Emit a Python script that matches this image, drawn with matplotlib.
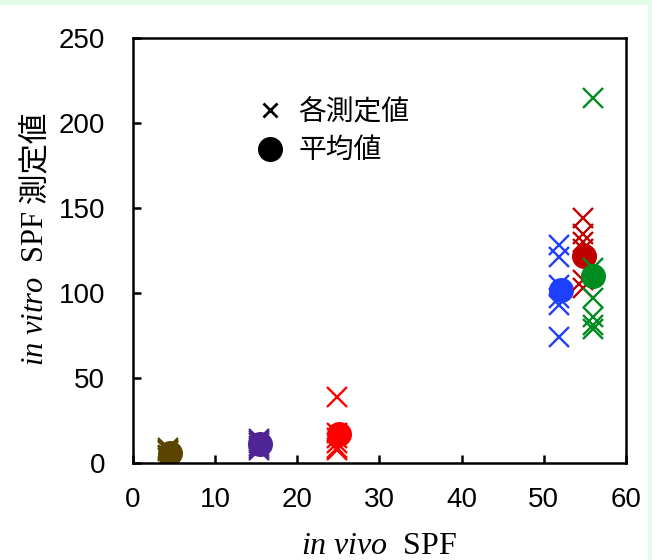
import matplotlib
matplotlib.use("Agg")
import matplotlib.pyplot as plt
from matplotlib.lines import Line2D
from matplotlib.patches import Rectangle

plt.rcParams['font.family'] = ['Liberation Sans', 'Noto Sans CJK JP']
plt.rcParams['mathtext.fontset'] = 'custom'
plt.rcParams['mathtext.rm'] = 'Liberation Serif'
plt.rcParams['mathtext.it'] = 'Liberation Serif:italic'

# each sample: in vivo SPF, measured in vitro values, mean
colors = ['#5a4400', '#4f2596', '#ff0000', '#1f3fff', '#c00000', '#008c1e']
vivo_x = [4.3, 15.3, 24.8, 51.8, 54.8, 56.0]
vivo_mean_x = [4.5, 15.4, 25.1, 52.1, 54.9, 56.0]
vitro_vals = [
    [9, 8, 7, 5, 4, 3],
    [14, 13, 12, 10, 9, 8],
    [39, 18, 15, 12, 9, 8],
    [128, 121, 105, 97, 93, 74],
    [144, 135, 130, 126, 108, 103],
    [215, 115, 97, 86, 81, 79],
]
vitro_mean = [6, 11, 17, 102, 122, 110]

xticks = [0, 10, 20, 30, 40, 50, 60]
yticks = [0, 50, 100, 150, 200, 250]

fig = plt.figure(figsize=(6.52, 5.6), dpi=100, facecolor='#e2fbe8')
fig.patches.append(Rectangle((0, 0), 648 / 652, 555 / 560, transform=fig.transFigure,
                             facecolor='white', edgecolor='none', zorder=-10))
ax = fig.add_axes([0.204, 0.173, 0.756, 0.759])

for c, x, vals, mx, my in zip(colors, vivo_x, vitro_vals, vivo_mean_x, vitro_mean):
    ax.plot([x] * len(vals), vals, linestyle='none', marker='x', ms=14, mew=1.7, color=c)
    ax.plot([mx], [my], linestyle='none', marker='o', ms=17, color=c)

ax.set_xlim(0, 60)
ax.set_ylim(0, 250)
ax.set_xticks(xticks)
ax.set_yticks(yticks)
ax.tick_params(axis='x', direction='in', length=6, width=1.8, labelsize=20, pad=17)
ax.tick_params(axis='y', direction='in', length=6, width=1.8, labelsize=20, pad=20)
for s in ax.spines.values():
    s.set_linewidth(1.8)

ax.set_xlabel(r'$\mathit{in\ vivo}$  SPF', fontsize=23, family=['Liberation Serif'], labelpad=14)

# y label in two pieces: the mathtext part cannot fall back to the CJK font
fig.canvas.draw()
renderer = fig.canvas.get_renderer()
ylab1 = fig.text(0.055, 0.0, r'$\mathit{in\ vitro}$  SPF', rotation=90, fontsize=22,
                 family=['Liberation Serif'], ha='center', va='bottom')
ylab2 = fig.text(0.055, 0.0, ' 測定値', rotation=90, fontsize=22,
                 family=['Noto Sans CJK JP'], ha='center', va='bottom')
h1 = ylab1.get_window_extent(renderer).height / fig.bbox.height
h2 = ylab2.get_window_extent(renderer).height / fig.bbox.height
y_mid = 0.173 + 0.759 / 2 + 0.02
y0 = y_mid - (h1 + h2) / 2
ylab1.set_y(y0)
ylab2.set_y(y0 + h1)

handles = [Line2D([], [], linestyle='none', marker='x', ms=10, mew=2.0, color='black'),
           Line2D([], [], linestyle='none', marker='o', ms=17, color='black')]
ax.legend(handles, ['各測定値', '平均値'], loc='upper left', bbox_to_anchor=(0.2, 0.92),
          frameon=False, handlelength=1.0, handletextpad=0.5, labelspacing=0.3,
          prop={'family': ['Noto Sans CJK JP'], 'size': 20})

fig.savefig('out.png', dpi=100)
